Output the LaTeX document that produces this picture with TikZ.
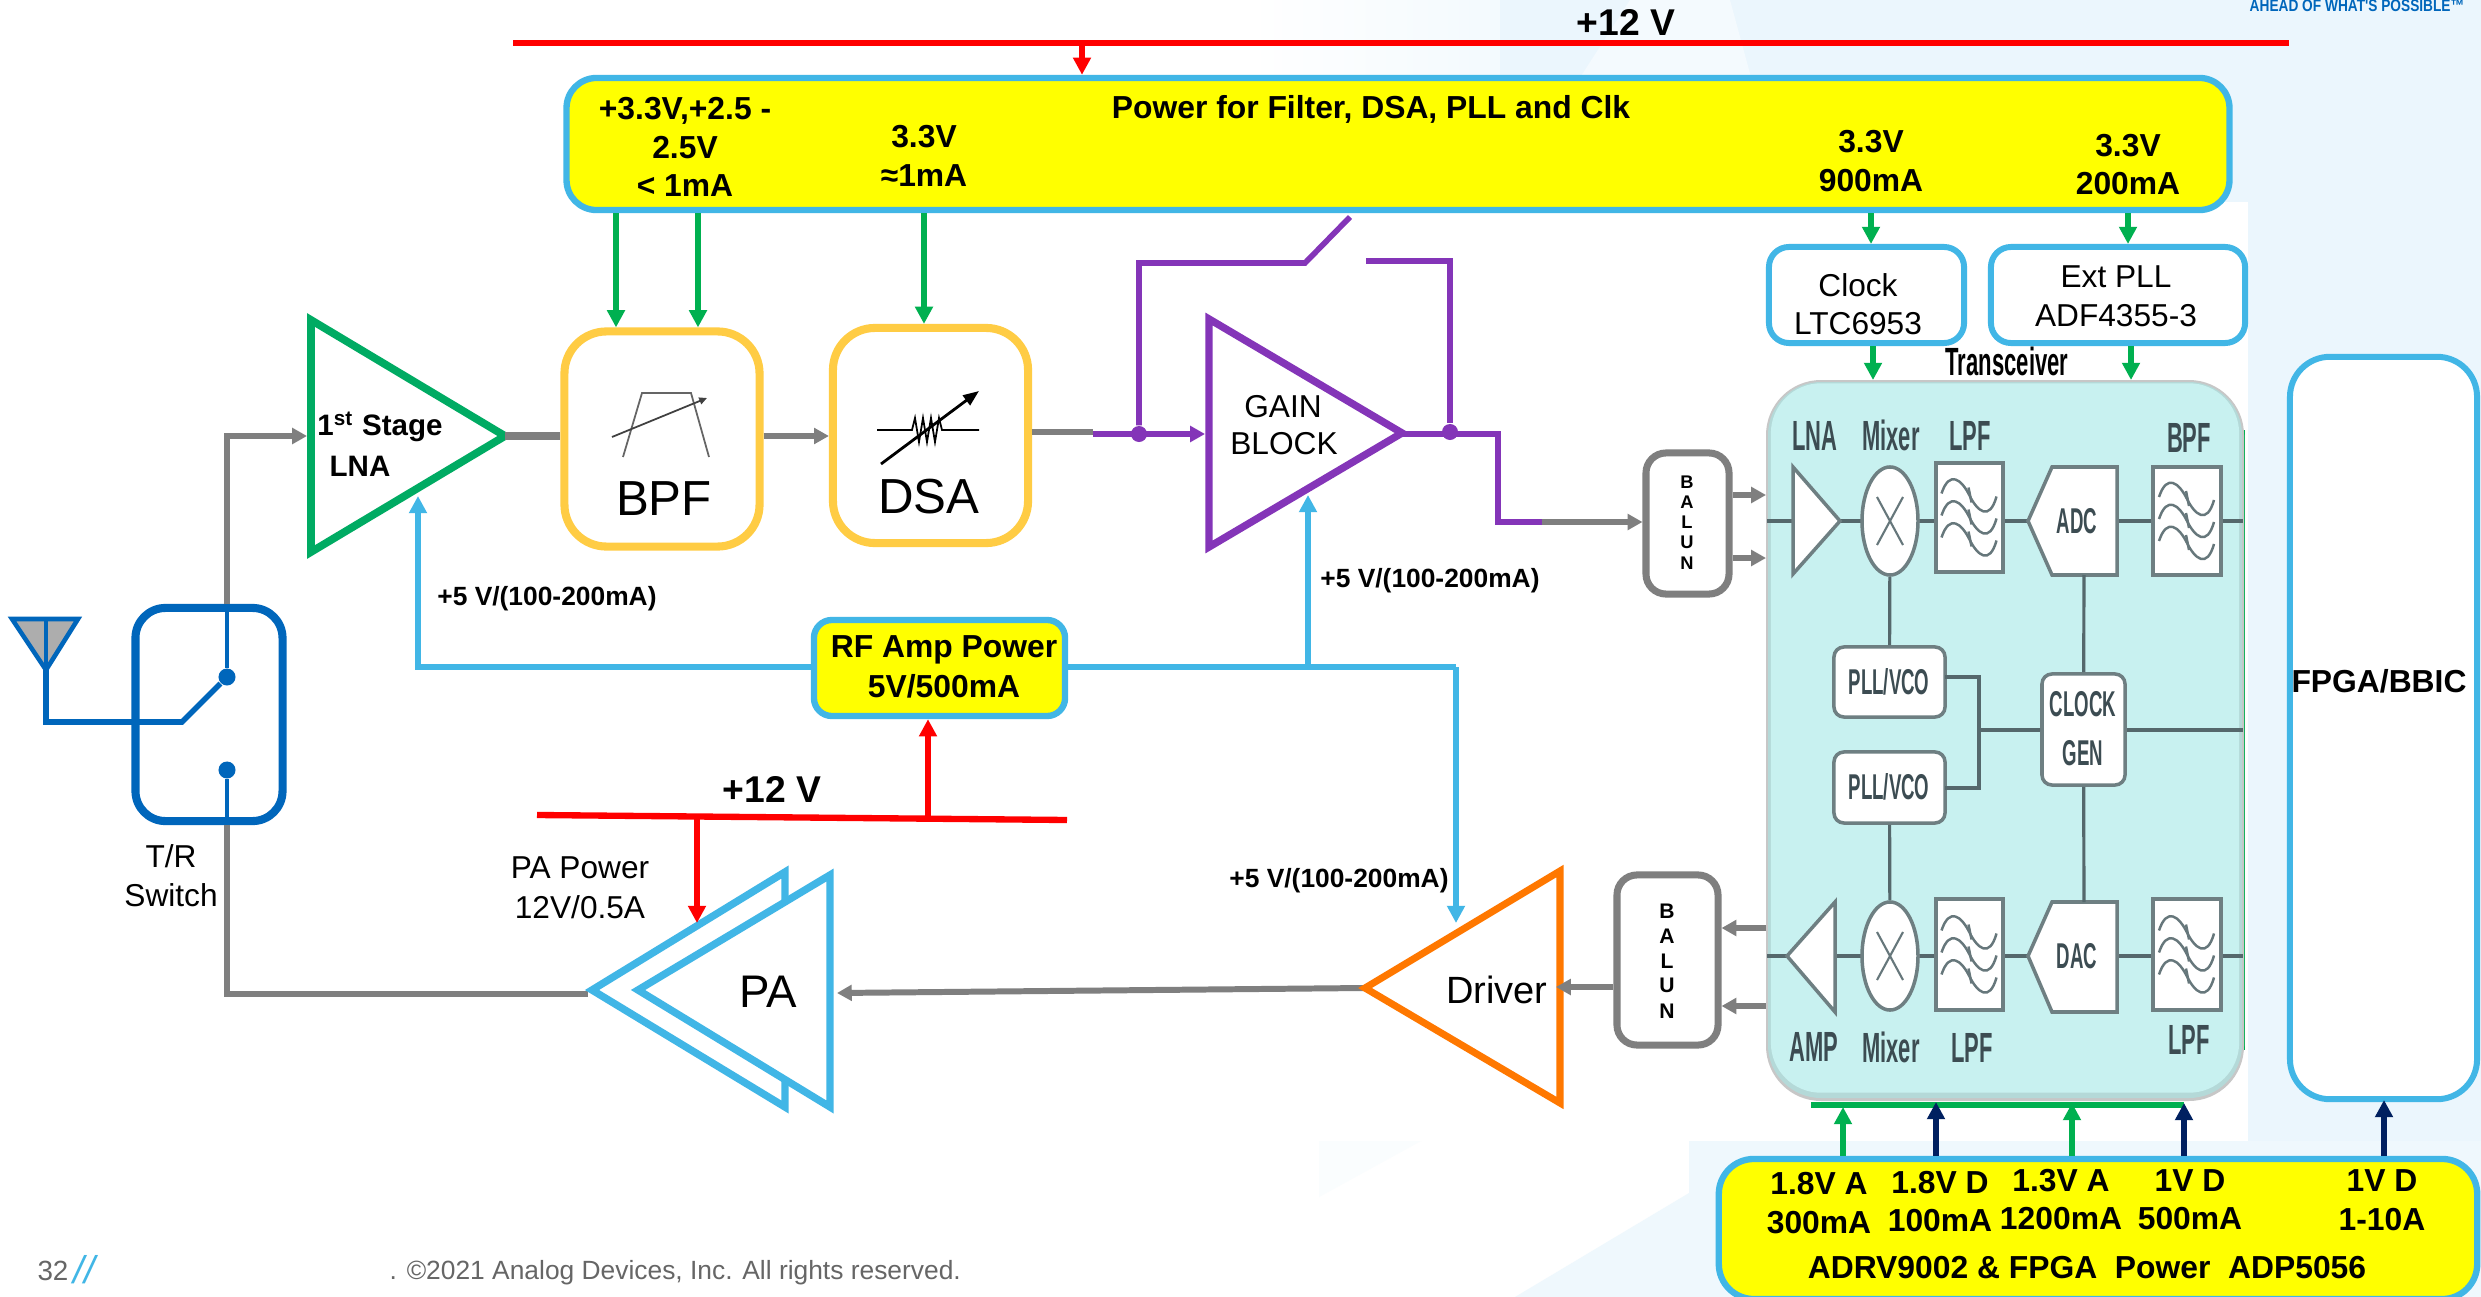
\documentclass[tikz,border=0pt]{standalone}
\usepackage{fontspec}
\setmainfont{Liberation Sans}
\newfontfamily\narrowf[FakeStretch=0.52]{Liberation Sans}
\newfontfamily\titlef[FakeStretch=0.56]{Liberation Sans}
\newfontfamily\tagf[FakeStretch=0.82]{Liberation Sans}
\usetikzlibrary{arrows.meta,shapes.geometric,calc}
\definecolor{rfblue}{HTML}{41B6E6}
\definecolor{pwryel}{HTML}{FFFF00}
\definecolor{rred}{HTML}{FF0000}
\definecolor{ggreen}{HTML}{00B050}
\definecolor{nnavy}{HTML}{002060}
\definecolor{ggray}{HTML}{7F7F7F}
\definecolor{amber}{HTML}{FFCC44}
\definecolor{ppurple}{HTML}{8435B8}
\definecolor{oorange}{HTML}{FF7800}
\definecolor{swblue}{HTML}{0066BB}
\definecolor{lnagreen}{HTML}{00AB63}
\definecolor{palebg}{HTML}{EBF6FD}
\definecolor{trxfill}{HTML}{C8F1F0}
\definecolor{trxline}{HTML}{55686C}
\definecolor{trxtext}{HTML}{3C4C52}
\tikzset{
  x=0.01cm,y=-0.01cm,
  tipb/.style={-{Triangle[length=4.9pt,width=4.9pt]}},
  tips/.style={-{Triangle[length=4.2pt,width=4.4pt]}},
  greenarr/.style={draw=ggreen,line width=1.6pt,tipb},
  navyarr/.style={draw=nnavy,line width=1.8pt,tipb},
  redarr/.style={draw=rred,line width=1.5pt,tipb},
  bluearr/.style={draw=rfblue,line width=1.7pt,tipb},
  bluewire/.style={draw=rfblue,line width=1.7pt},
  grayarr/.style={draw=ggray,line width=1.7pt,tips},
  graywire/.style={draw=ggray,line width=1.7pt},
  purplewire/.style={draw=ppurple,line width=1.6pt,line join=miter},
  redbar/.style={draw=rred,line width=1.8pt},
  swwire/.style={draw=swblue,line width=1.3pt},
  pwrbox/.style={draw=rfblue,fill=pwryel,line width=1.8pt,inner sep=0pt},
  whitebox/.style={draw=rfblue,fill=white,line width=1.7pt,inner sep=0pt,rounded corners=0.2cm},
  filterbox/.style={draw=amber,fill=white,line width=2.3pt,inner sep=0pt,rounded corners=0.42cm,minimum width=1.95cm,minimum height=2.15cm},
  balunbox/.style={draw=ggray,fill=white,line width=2pt,inner sep=0pt,rounded corners=0.2cm},
  bigtxt/.style={font=\fontsize{9.05}{9}\selectfont\bfseries,inner sep=0pt,text height=6.45pt,text depth=0pt},
  regtxt/.style={font=\fontsize{9}{9}\selectfont,inner sep=0pt,text height=6.45pt,text depth=0pt},
  smalltxt/.style={font=\fontsize{7.5}{7.5}\selectfont\bfseries,inner sep=0pt,text height=5.4pt,text depth=0pt},
  hugetxt/.style={font=\fontsize{14}{14}\selectfont,inner sep=0pt,text height=10pt,text depth=0pt},
  railtxt/.style={font=\fontsize{10.6}{11}\selectfont\bfseries,inner sep=0pt,text height=7.6pt,text depth=0pt},
  letter/.style={font=\fontsize{5.2}{5.2}\selectfont\bfseries,inner sep=0pt,text height=3.7pt,text depth=0pt},
  chiplbl/.style={font=\narrowf\bfseries\fontsize{12}{12}\selectfont,text=trxtext,inner sep=0pt,text height=8.6pt,text depth=0pt},
  chiptxt/.style={font=\narrowf\bfseries\fontsize{10.2}{10.2}\selectfont,text=trxtext,inner sep=0pt,text height=7.3pt,text depth=0pt},
  chipline/.style={draw=trxline,line width=0.9pt},
  chipblock/.style={draw=trxline!85,fill=white,line width=1pt,inner sep=0pt},
  chipwave/.style={draw=trxline!90,line width=0.7pt},
  wavebox/.pic={
    \foreach \dy in {0,22,44}{
      \draw[chipwave] (-28,-24+\dy) .. controls (-20,-48+\dy) and (-8,-38+\dy) .. (0,-22+\dy) .. controls (8,-6+\dy) and (20,4+\dy) .. (27,-21+\dy);
      \draw[chipwave] (-1,-30+\dy) -- (2,-15+\dy);
    }
  },
  mixcross/.pic={
    \draw[chipwave,line width=0.6pt] (-13,-24) -- (13,24);
    \draw[chipwave,line width=0.6pt] (-13,24) -- (13,-24);
  },
}
\begin{document}
\begin{tikzpicture}
\path[use as bounding box] (0,0) rectangle (2481,1297);
\clip (0,0) rectangle (2481,1297);
% background
\fill[white] (0,0) rectangle (2481,1297);
\shade[left color=white,right color=palebg!60] (1250,0) rectangle (1500,202);
\fill[palebg] (1500,0) rectangle (2481,202);
\fill[palebg!55] (1500,202) -- (1630,0) -- (1730,0) -- (1785,202) -- cycle;
\fill[palebg] (2248,0) rectangle (2481,1297);
\fill[palebg!80] (1689,1141) -- (2481,1141) -- (2481,1297) -- (1515,1297) -- (1689,1193) -- cycle;
\fill[palebg!25] (1319,1141) -- (1421,1141) -- (1319,1197) -- cycle;
\node[font=\tagf\bfseries\fontsize{4.75}{5}\selectfont,text=swblue,inner sep=0pt,text height=3.4pt,text depth=0pt] (tagline) at (2357,6) {AHEAD OF WHAT'S POSSIBLE™};

% top rail and power box
\coordinate (railL) at (513,43);
\coordinate (railR) at (2289,43);
\draw[redbar] (railL) -- (railR);
\node[railtxt] (rail1) at (1626,22) {+12 V};
\node[pwrbox,rounded corners=0.3cm,minimum width=16.62cm,minimum height=1.32cm] (pwr) at (1398,144) {};
\coordinate (tapA) at (1082,43);
\draw[redarr] (tapA) -- (pwr.north -| tapA);
\node[bigtxt] (t1a) at (685,108) {+3.3V,+2.5 -};
\node[bigtxt] (t1b) at (685,147) {2.5V};
\node[bigtxt] (t1c) at (685,185) {< 1mA};
\node[bigtxt] (t2a) at (924,136) {3.3V};
\node[bigtxt] (t2b) at (924,175) {≈1mA};
\node[bigtxt] (t3) at (1371,107) {Power for Filter, DSA, PLL and Clk};
\node[bigtxt] (t4a) at (1871,141) {3.3V};
\node[bigtxt] (t4b) at (1871,180) {900mA};
\node[bigtxt] (t5a) at (2128,145) {3.3V};
\node[bigtxt] (t5b) at (2128,183) {200mA};

% filter blocks
\node[filterbox] (bpf) at (662,439) {};
\node[filterbox] (dsa) at (930.5,435.5) {};
\node[hugetxt] (bpft) at (664,498) {BPF};
\node[hugetxt] (dsat) at (929,496) {DSA};
\draw[ggray!80!black,line width=0.5pt] (623,457) -- (642,393) -- (691,393) -- (709,457);
\draw[black!75,line width=0.5pt,-{Triangle[length=2.2pt,width=2pt]}] (612,437) -- (707,398);
\draw[black,line width=0.5pt] (877,430) -- (912,430) -- (915,418) -- (919,442) -- (923,418) -- (927,442) -- (931,418) -- (935,442) -- (939,418) -- (942,430) -- (979,430);
\draw[black,line width=0.8pt,-{Triangle[length=4.5pt,width=3.4pt]}] (881,464) -- (979,391);
\coordinate (g1) at (616,0);
\coordinate (g2) at (698,0);
\coordinate (g3) at (924,0);
\draw[greenarr] (pwr.south -| g1) -- (bpf.north -| g1);
\draw[greenarr] (pwr.south -| g2) -- (bpf.north -| g2);
\draw[greenarr] (pwr.south -| g3) -- (dsa.north -| g3);

% LNA
\coordinate (lnaT) at (311,320);
\coordinate (lnaB) at (311,552);
\coordinate (lnaO) at (505,436);
\coordinate (lnaI) at (307,436);
\draw[draw=lnagreen,fill=white,line width=2.2pt,line join=miter] (lnaT) -- (lnaO) -- (lnaB) -- cycle;
\node[font=\fontsize{8.4}{9}\selectfont\bfseries,inner sep=0pt,text height=5.9pt,text depth=0pt] (lnat1) at (380,425) {1\textsuperscript{st} Stage};
\node[font=\fontsize{8.4}{9}\selectfont\bfseries,inner sep=0pt,text height=5.9pt,text depth=0pt] (lnat2) at (360,466) {LNA};
\draw[draw=ggray,line width=2.3pt] (lnaO) -- (bpf.west |- lnaO);
\coordinate (bd) at (0,436);
\draw[grayarr] (bpf.east |- bd) -- (dsa.west |- bd);

% switch and antenna
\node[draw=swblue,fill=white,line width=2.3pt,inner sep=0pt,rounded corners=0.3cm,minimum width=1.47cm,minimum height=2.13cm] (sw) at (209,714.5) {};
\node[circle,fill=swblue,inner sep=0pt,minimum size=0.17cm] (c1) at (227,677) {};
\node[circle,fill=swblue,inner sep=0pt,minimum size=0.17cm] (c2) at (227,770) {};
\coordinate (swk) at (182,722);
\coordinate (antB) at (46,670);
\coordinate (antL) at (12,619);
\coordinate (antR) at (78,619);
\coordinate (antC) at (46,619);
\draw[swwire,fill=black!32,line join=miter] (antL) -- (antR) -- (antB) -- cycle;
\draw[swwire] (antC) -- (antB);
\draw[swwire,line width=1.6pt] (antB) -- (46,722) -- (swk) -- (c1);
\draw[swwire] (sw.north -| c1) -- (c1);
\draw[swwire] (c2) -- (sw.south -| c2);
\draw[grayarr] (sw.north -| c1) |- (lnaI);
\node[regtxt] (sw1) at (171,856) {T/R};
\node[regtxt] (sw2) at (171,895) {Switch};

% gain block
\coordinate (gainT) at (1209,319);
\coordinate (gainB) at (1209,547);
\coordinate (gainO) at (1402,433);
\coordinate (gainI) at (1205,434);
\coordinate (sw3a) at (1305,263);
\coordinate (sw3b) at (1350,217);
\coordinate (sw3c) at (1366,261);
\coordinate (dsaOut) at (1093,432);
\draw[graywire] (dsa.east |- dsaOut) -- (dsaOut);
\node[circle,fill=ppurple,inner sep=0pt,minimum size=0.16cm] (d1) at (1139,434) {};
\node[circle,fill=ppurple,inner sep=0pt,minimum size=0.16cm] (d2) at (1450,432) {};
\draw[purplewire] (d1) -- (d1 |- sw3a) -- (sw3a) -- (sw3b);
\draw[purplewire] (sw3c) -- (sw3c -| d2) -- (d2);
\draw[draw=ppurple,fill=white,line width=2.1pt,line join=miter] (gainT) -- (gainO) -- (gainB) -- cycle;
\draw[purplewire,tips] (1093,434) -- (gainI);
\coordinate (pk1) at (1498,434);
\coordinate (pk2) at (1498,522);
\coordinate (pk3) at (1542,522);
\draw[purplewire] (gainO |- pk1) -- (pk1) -- (pk2) -- (pk3);
\node[regtxt,fill=none] (gaint1) at (1283,406) {GAIN};
\node[regtxt] (gaint2) at (1284,443) {BLOCK};

% RF amp power
\node[pwrbox,rounded corners=0.18cm,minimum width=2.51cm,minimum height=0.96cm] (rf) at (939.5,668) {};
\node[bigtxt] (rft1) at (944,646) {RF Amp Power};
\node[bigtxt] (rft2) at (944,686) {5V/500mA};
\coordinate (bl1) at (418,667);
\coordinate (bl2) at (418,496);
\coordinate (bl3) at (1308,667);
\coordinate (bl4) at (1308,495);
\coordinate (bl5) at (1456,667);
\coordinate (bl6) at (1456,923);
\draw[bluearr] (rf.west |- bl1) -- (bl1) -- (bl2);
\draw[bluewire] (rf.east |- bl1) -- (bl5);
\draw[bluearr] (bl3) -- (bl4);
\draw[bluearr] (bl5) -- (bl6);
\node[smalltxt] (pw1) at (547,596) {+5 V/(100-200mA)};
\node[smalltxt] (pw2) at (1430,578) {+5 V/(100-200mA)};
\node[smalltxt] (pw3) at (1339,878) {+5 V/(100-200mA)};

% second rail
\coordinate (rail2L) at (537,815);
\coordinate (rail2R) at (1067,820);
\draw[redbar] (rail2L) -- (rail2R);
\node[railtxt] (rail2t) at (772,789) {+12 V};
\coordinate (up) at (928,817);
\coordinate (dn) at (697,816);
\coordinate (dnE) at (697,923);
\draw[redarr] (up) -- (rf.south -| up);
\node[regtxt] (pa1) at (580,867) {PA Power};
\node[regtxt] (pa2) at (580,907) {12V/0.5A};

% PA and driver
\coordinate (paOut) at (588,994);
\coordinate (b1T) at (785,872);
\coordinate (b1B) at (785,1107);
\coordinate (b1O) at (592,990);
\coordinate (f1T) at (830,875);
\coordinate (f1B) at (830,1107);
\coordinate (f1O) at (638,990);
\coordinate (drT) at (1560,871);
\coordinate (drB) at (1560,1103);
\coordinate (drO) at (1365,988);
\coordinate (drIn) at (1556,987);
\coordinate (paIn) at (837,993);
\draw[grayarr] (drO) -- (paIn);
\draw[graywire] (sw.south -| c2) -- (c2 |- paOut) -- (paOut);
\draw[draw=rfblue,fill=white,line width=2.1pt,line join=miter] (b1T) -- (b1O) -- (b1B) -- cycle;
\draw[draw=rfblue,fill=white,line width=2.1pt,line join=miter] (f1T) -- (f1O) -- (f1B) -- cycle;
\draw[redarr] (dn) -- (dnE);
\node[font=\fontsize{13}{13}\selectfont,inner sep=0pt,text height=9.3pt,text depth=0pt] (pat) at (768,991) {PA};
\draw[draw=oorange,fill=white,line width=2pt,line join=miter] (drT) -- (drO) -- (drB) -- cycle;
\node[font=\fontsize{10.8}{11}\selectfont,inner sep=0pt,text height=7.8pt,text depth=0pt] (drt) at (1497,990) {Driver};

% baluns
\node[balunbox,minimum width=0.83cm,minimum height=1.41cm] (bal1) at (1687.5,523.5) {};
\foreach \nm/\ch/\yy in {a/B/482,b/A/502,c/L/522,d/U/542,e/N/563}{\node[letter] (u\nm) at (1687,\yy) {\ch};}
\node[balunbox,minimum width=1.01cm,minimum height=1.70cm] (bal2) at (1667.5,960) {};
\foreach \nm/\ch/\yy in {a/B/912,b/A/937,c/L/962,d/U/986,e/N/1012}{\node[letter,font=\fontsize{6}{6}\selectfont\bfseries] (v\nm) at (1667,\yy) {\ch};}
\draw[grayarr] (pk3) -- (bal1.west |- pk3);
\draw[grayarr] (bal2.west |- drIn) -- (drIn);

% transceiver
\draw[ggreen,line width=1.5pt] (1811,1105) -- (2184,1105);
\draw[ggreen,line width=0.8pt] (2244,430) -- (2244,1050);
\fill[black!22,rounded corners=0.55cm] (1766,380) rectangle (2244,1101);
\fill[trxfill!75!black!40!trxfill,rounded corners=0.53cm] (1768,382) rectangle (2242,1098);
\node[fill=trxfill,inner sep=0pt,rounded corners=0.5cm,minimum width=4.68cm,minimum height=7.09cm] (trx) at (2005,738) {};
\coordinate (trxW) at (1766,0);
\coordinate (trxN) at (0,380);
\node[font=\titlef\bfseries\fontsize{11.2}{11}\selectfont,inner sep=0pt,text height=7.8pt,text depth=0pt] (trxt) at (2007,362) {Transceiver};
\coordinate (rxL) at (1767,521);
\coordinate (rxR) at (2243,521);
\coordinate (txL) at (1767,956);
\coordinate (txR) at (2243,956);
\draw[chipline] (rxL) -- (rxR);
\draw[chipline] (txL) -- (txR);
\coordinate (midL) at (1979,730);
\coordinate (midR) at (2243,730);
\draw[chipline] (midL) -- (midR);
\coordinate (lnaRt) at (1793,467);
\coordinate (lnaRb) at (1793,574);
\coordinate (lnaRo) at (1840,521);
\draw[chipblock,line join=miter] (lnaRt) -- (lnaRo) -- (lnaRb) -- cycle;
\coordinate (ampT) at (1835,902);
\coordinate (ampB) at (1835,1012);
\coordinate (ampO) at (1787,956);
\draw[chipblock,line join=miter] (ampT) -- (ampO) -- (ampB) -- cycle;
\node[chipblock,ellipse,minimum width=0.56cm,minimum height=1.08cm] (mx1) at (1890,521) {};
\node[chipblock,ellipse,minimum width=0.56cm,minimum height=1.08cm] (mx2) at (1890,956) {};
\pic at (mx1) {mixcross};
\pic at (mx2) {mixcross};
\node[chipblock,minimum width=0.67cm,minimum height=1.09cm] (lpf1) at (1969.5,517.5) {};
\node[chipblock,minimum width=0.68cm,minimum height=1.08cm] (bpfr) at (2187,521) {};
\node[chipblock,minimum width=0.67cm,minimum height=1.11cm] (lpf2) at (1969.5,954.5) {};
\node[chipblock,minimum width=0.68cm,minimum height=1.11cm] (lpf3) at (2187,954.5) {};
\pic at (lpf1) {wavebox};
\pic at (bpfr) {wavebox};
\pic at (lpf2) {wavebox};
\pic at (lpf3) {wavebox};
\draw[chipblock,line join=miter] (2028,521) -- (2052,467) -- (2117,467) -- (2117,575) -- (2052,575) -- cycle;
\draw[chipblock,line join=miter] (2028,956) -- (2052,902) -- (2117,902) -- (2117,1012) -- (2052,1012) -- cycle;
\coordinate (adcB) at (2084,575);
\coordinate (dacT) at (2084,902);
\coordinate (mxtop) at (1890,902);
\node[chipblock,rounded corners=0.1cm,minimum width=1.11cm,minimum height=0.70cm] (pll1) at (1889.5,682) {};
\node[chipblock,rounded corners=0.1cm,minimum width=1.11cm,minimum height=0.71cm] (pll2) at (1889.5,787.5) {};
\node[chipblock,rounded corners=0.1cm,minimum width=0.83cm,minimum height=1.11cm] (cgen) at (2083.5,729.5) {};
\draw[chipline] (mx1) -- (pll1);
\draw[chipline] (pll2) -- (mx2);
\draw[chipline] (adcB) -- (cgen);
\draw[chipline] (cgen) -- (dacT);
\coordinate (pj1) at (1945,677);
\coordinate (pj2) at (1979,677);
\coordinate (pj3) at (1979,788);
\coordinate (pj4) at (1945,788);
\draw[chipline,line width=1.1pt] (pj1) -- (pj2) -- (pj3) -- (pj4);
\draw[chipline] (pj2 |- midL) -- (cgen);
\node[chiplbl] (l1) at (1815,435) {LNA};
\node[chiplbl] (l2) at (1891,435) {Mixer};
\node[chiplbl] (l3) at (1970,435) {LPF};
\node[chiplbl] (l4) at (2189,437) {BPF};
\node[chiplbl] (l5) at (1814,1046) {AMP};
\node[chiplbl] (l6) at (1891,1047) {Mixer};
\node[chiplbl] (l7) at (1972,1047) {LPF};
\node[chiplbl] (l8) at (2189,1039) {LPF};
\node[chiptxt] (i1) at (2077,521) {ADC};
\node[chiptxt] (i2) at (2077,956) {DAC};
\node[chiptxt] (i3) at (1889,682) {PLL/VCO};
\node[chiptxt] (i4) at (1889,787) {PLL/VCO};
\node[chiptxt] (i5) at (2083,704) {CLOCK};
\node[chiptxt] (i6) at (2083,753) {GEN};
\coordinate (ba1) at (0,495);
\coordinate (ba2) at (0,558);
\draw[grayarr] (bal1.east |- ba1) -- (trxW |- ba1);
\draw[grayarr] (bal1.east |- ba2) -- (trxW |- ba2);
\coordinate (ba3) at (0,928);
\coordinate (ba4) at (0,1006);
\draw[grayarr] (trxW |- ba3) -- (bal2.east |- ba3);
\draw[grayarr] (trxW |- ba4) -- (bal2.east |- ba4);

% clock and PLL boxes
\node[whitebox,minimum width=1.95cm,minimum height=0.96cm] (clk) at (1866.5,295) {};
\node[whitebox,minimum width=2.54cm,minimum height=0.96cm] (pll) at (2118,295) {};
\node[regtxt] (clk1) at (1858,285) {Clock};
\node[regtxt] (clk2) at (1858,323) {LTC6953};
\node[regtxt] (pll1t) at (2116,276) {Ext PLL};
\node[regtxt] (pll2t) at (2116,315) {ADF4355-3};
\coordinate (g4) at (1871,0);
\coordinate (g5) at (2128,0);
\coordinate (g6) at (1873,0);
\coordinate (g7) at (2131,0);
\draw[greenarr] (pwr.south -| g4) -- (clk.north -| g4);
\draw[greenarr] (pwr.south -| g5) -- (pll.north -| g5);
\draw[greenarr] (clk.south -| g6) -- (trxN -| g6);
\draw[greenarr] (pll.south -| g7) -- (trxN -| g7);

% FPGA
\node[whitebox,rounded corners=0.4cm,minimum width=1.87cm,minimum height=7.42cm] (fpga) at (2383.5,728) {};
\node[bigtxt] (fpgat) at (2379,681) {FPGA/BBIC};

% ADP5056 box
\node[pwrbox,rounded corners=0.35cm,minimum width=7.58cm,minimum height=1.40cm] (adp) at (2098,1229) {};
\node[bigtxt] (p1a) at (1819,1183) {1.8V A};
\node[bigtxt] (p1b) at (1819,1222) {300mA};
\node[bigtxt] (p2a) at (1940,1182) {1.8V D};
\node[bigtxt] (p2b) at (1940,1220) {100mA};
\node[bigtxt] (p3a) at (2061,1180) {1.3V A};
\node[bigtxt] (p3b) at (2061,1218) {1200mA};
\node[bigtxt] (p4a) at (2190,1180) {1V D};
\node[bigtxt] (p4b) at (2190,1218) {500mA};
\node[bigtxt] (p5a) at (2382,1180) {1V D};
\node[bigtxt] (p5b) at (2382,1219) {1-10A};
\node[bigtxt] (p6) at (2087,1267) {ADRV9002 \& FPGA\ \ Power\ \ ADP5056};
\coordinate (a1) at (1843,1107);
\coordinate (a2) at (1936,1102);
\coordinate (a3) at (2072,1103);
\coordinate (a4) at (2184,1103);
\coordinate (a5) at (2384,1100);
\draw[greenarr,line width=1.9pt] (adp.north -| a1) -- (a1);
\draw[navyarr] (adp.north -| a2) -- (a2);
\draw[greenarr,line width=1.9pt] (adp.north -| a3) -- (a3);
\draw[navyarr] (adp.north -| a4) -- (a4);
\draw[navyarr] (adp.north -| a5) -- (a5);

% footer
\node[font=\fontsize{7.9}{8}\selectfont,text=black!60,inner sep=0pt,text height=5.7pt,text depth=0pt] (pg) at (53,1270) {32};
\node[font=\fontsize{11}{11}\selectfont\itshape,text=rfblue,inner sep=0pt,text height=7.5pt,text depth=0pt] (pgs) at (84,1270) {//};
\node[font=\fontsize{7.5}{8}\selectfont,text=black!60,inner sep=0pt,text height=5.4pt,text depth=0pt,anchor=west] (foot) at (389,1270) {. ©2021 Analog Devices, Inc. All rights reserved.};
\end{tikzpicture}
\end{document}
